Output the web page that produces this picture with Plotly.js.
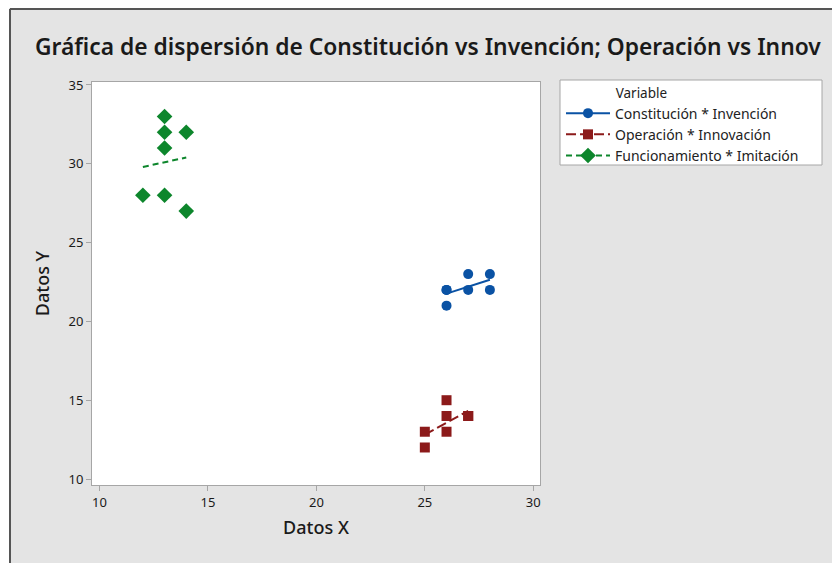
<!DOCTYPE html>
<html>
<head>
<meta charset="utf-8">
<script src="https://cdn.plot.ly/plotly-3.0.1.min.js"></script>
<style>html,body{margin:0;padding:0;background:#fff;}#chart{width:832px;height:563px;}</style>
</head>
<body>
<div id="chart"></div>
<script>
// ---- Data ----
const seriesNames = ["Constitución * Invención", "Operación * Innovación", "Funcionamiento * Imitación"];
const constitucionX = [26, 26, 26, 27, 27, 28, 28];
const constitucionY = [22, 22, 21, 23, 22, 23, 22];
const operacionX = [25, 25, 26, 26, 26, 27, 27];
const operacionY = [13, 12, 15, 14, 13, 14, 14];
const funcionamientoX = [13, 13, 14, 13, 12, 13, 14];
const funcionamientoY = [33, 32, 32, 31, 28, 28, 27];
const xTickVals = [10, 15, 20, 25, 30];
const yTickVals = [10, 15, 20, 25, 30, 35];

// ---- Styles ----
const colors = ["#0a52a4", "#8c1a1a", "#0d862c"];
const symbols = ["circle", "square", "diamond"];
const markerSizes = [10, 10, 12];
const dashes = ["solid", "10px,4px", "6px,4px"];

function fit(xs, ys) {
  const n = xs.length;
  const mx = xs.reduce((a, b) => a + b, 0) / n;
  const my = ys.reduce((a, b) => a + b, 0) / n;
  let sxy = 0, sxx = 0;
  for (let i = 0; i < n; i++) { sxy += (xs[i] - mx) * (ys[i] - my); sxx += (xs[i] - mx) ** 2; }
  const b = sxy / sxx, a = my - b * mx;
  const x0 = Math.min(...xs), x1 = Math.max(...xs);
  return { x: [x0, x1], y: [a + b * x0, a + b * x1] };
}

const seriesX = [constitucionX, operacionX, funcionamientoX];
const seriesY = [constitucionY, operacionY, funcionamientoY];
const traces = [];
for (let i = 0; i < 3; i++) {
  const f = fit(seriesX[i], seriesY[i]);
  traces.push({ x: f.x, y: f.y, type: "scatter", mode: "lines", showlegend: false, hoverinfo: "skip",
    line: { color: colors[i], width: 2, dash: dashes[i] } });
}
for (let i = 0; i < 3; i++) {
  traces.push({ x: seriesX[i], y: seriesY[i], type: "scatter", mode: "markers", showlegend: false,
    marker: { color: colors[i], symbol: symbols[i], size: markerSizes[i] } });
}
for (let i = 0; i < 3; i++) {
  traces.push({ x: [null], y: [null], type: "scatter", mode: "lines+markers", name: seriesNames[i],
    line: { color: colors[i], width: 2, dash: dashes[i] },
    marker: { color: colors[i], symbol: symbols[i], size: markerSizes[i] } });
}

// pixel -> paper helpers
const L = 92, R = 540, T = 82, B = 485, W = 832, H = 563;
const px = v => (v - L) / (R - L);
const py = v => (B - v) / (B - T);

const layout = {
  width: W, height: H,
  paper_bgcolor: "#e4e4e4", plot_bgcolor: "#ffffff",
  margin: { l: L, r: W - R, t: T, b: H - B, pad: 0 },
  font: { family: "Noto Sans, sans-serif", color: "#222" },
  title: { text: "Gráfica de dispersión de Constitución vs Invención; Operación vs Innov",
    xref: "container", yref: "container", x: 35 / W, xanchor: "left", y: 1 - 47 / H, yanchor: "middle",
    font: { size: 22.8, weight: 600, color: "#1a1a1a", family: "Noto Sans, sans-serif" } },
  xaxis: { range: [9.654, 30.31], tickvals: xTickVals, ticktext: xTickVals.map(String), showgrid: false, zeroline: false,
    showline: true, mirror: true, linecolor: "#a6a6a6", linewidth: 1,
    ticks: "outside", ticklen: 5, tickcolor: "#a6a6a6", tickfont: { size: 13, color: "#1a1a1a" },
    title: { text: "Datos X", font: { size: 18, weight: 500, color: "#1a1a1a" }, standoff: 11 } },
  yaxis: { range: [9.62, 35.19], tickvals: yTickVals, ticktext: yTickVals.map(String), showgrid: false, zeroline: false,
    showline: true, mirror: true, linecolor: "#a6a6a6", linewidth: 1,
    ticks: "outside", ticklen: 5, tickcolor: "#a6a6a6", tickfont: { size: 13, color: "#1a1a1a" },
    title: { text: "Datos Y", font: { size: 18, weight: 500, color: "#1a1a1a" }, standoff: 14 } },
  legend: { x: px(560), xanchor: "left", y: py(79), yanchor: "top", bgcolor: "rgba(0,0,0,0)",
    bordercolor: "rgba(0,0,0,0)", borderwidth: 1, itemwidth: 44, tracegroupgap: 0,
    font: { size: 14, color: "#222" },
    title: { text: "\u00a0\u00a0\u00a0\u00a0\u00a0\u00a0\u00a0\u00a0\u00a0\u00a0\u00a0\u00a0\u00a0\u00a0\u00a0Variable", font: { size: 13.5, color: "#222" } } },
  shapes: [
    { type: "rect", xref: "paper", yref: "paper", x0: px(560), x1: px(822), y0: py(80), y1: py(165), fillcolor: "#ffffff", line: { color: "#a6a6a6", width: 1 }, layer: "above" },
    { type: "rect", xref: "paper", yref: "paper", x0: px(0), x1: px(W), y0: py(0), y1: py(8), fillcolor: "#ffffff", line: { width: 0 }, layer: "above" },
    { type: "rect", xref: "paper", yref: "paper", x0: px(0), x1: px(9), y0: py(0), y1: py(H), fillcolor: "#ffffff", line: { width: 0 }, layer: "above" },
    { type: "line", xref: "paper", yref: "paper", x0: px(10), x1: px(W), y0: py(9), y1: py(9), line: { color: "#555", width: 2 }, layer: "above" },
    { type: "line", xref: "paper", yref: "paper", x0: px(10), x1: px(10), y0: py(9), y1: py(H), line: { color: "#555", width: 2 }, layer: "above" }
  ]
};

Plotly.newPlot("chart", traces, layout, { displayModeBar: false, staticPlot: true });
</script>
</body>
</html>
